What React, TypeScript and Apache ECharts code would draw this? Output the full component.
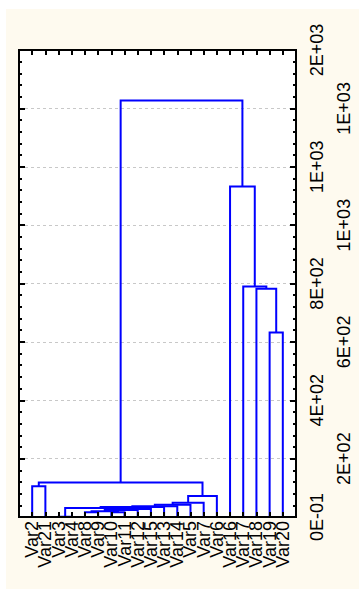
import React, { useEffect, useRef } from "react";
import * as echarts from "echarts";

// Leaves in dendrogram order (position 1..20 on the horizontal axis)
const leafNames = [
  "Var2", "Var21", "Var3", "Var4", "Var8", "Var9", "Var10", "Var11", "Var12", "Var15",
  "Var13", "Var14", "Var5", "Var7", "Var6", "Var16", "Var17", "Var18", "Var19", "Var20",
];

// Merges: ids < 20 are leaves, id 20+j is the node made by merge j
const mergeLeft = [2, 4, 6, 21, 23, 24, 20, 26, 27, 28, 29, 30, 0, 32, 18, 17, 16, 15, 33];
const mergeRight = [3, 5, 7, 22, 8, 9, 25, 10, 11, 12, 13, 14, 1, 31, 19, 34, 35, 36, 37];
const mergeHeight = [1, 16, 16, 20, 24, 27, 31, 34, 37, 42, 49, 72, 105, 118, 632, 782, 790, 1132, 1427];

// Value-axis tick labels (0 .. 1600 step 200)
const yTickLabels = ["0E-01", "2E+02", "4E+02", "6E+02", "8E+02", "1E+03", "1E+03", "1E+03", "2E+03"];

const FONT = "Liberation Sans, Arial, sans-serif";

export default function App() {
  const ref = useRef<HTMLDivElement>(null);

  useEffect(() => {
    if (!ref.current) return;
    const chart = echarts.init(ref.current, null, { renderer: "svg" });

    const nLeaf = leafNames.length;
    const xs: number[] = [];
    const hs: number[] = [];
    for (let i = 0; i < nLeaf; i++) {
      xs.push(i + 1);
      hs.push(0);
    }
    const links: any[] = [];
    for (let j = 0; j < mergeLeft.length; j++) {
      const a = mergeLeft[j];
      const b = mergeRight[j];
      const h = mergeHeight[j];
      links.push({
        coords: [
          [xs[a], hs[a]],
          [xs[a], h],
          [xs[b], h],
          [xs[b], hs[b]],
        ],
      });
      xs.push((xs[a] + xs[b]) / 2);
      hs.push(h);
    }

    const black = "#000";
    const tickStyle = { color: black, width: 2 };

    chart.setOption({
      animation: false,
      backgroundColor: "#fefaef",
      grid: {
        left: 13,
        top: 41,
        right: 63,
        bottom: 72,
        show: true,
        backgroundColor: "#ffffff",
        borderColor: black,
        borderWidth: 2,
      },
      xAxis: [
        {
          type: "value",
          min: 0,
          max: nLeaf + 1,
          interval: 1,
          position: "bottom",
          z: 3,
          axisLine: { show: true, onZero: false, lineStyle: { color: black, width: 2 } },
          axisTick: { show: true, inside: true, length: 5, lineStyle: tickStyle },
          splitLine: { show: false },
          axisLabel: {
            show: true,
            rotate: 90,
            margin: 4,
            fontSize: 18,
            fontFamily: FONT,
            color: black,
            formatter: (v: number) => leafNames[v - 1] ?? "",
          },
        },
        {
          type: "value",
          min: 0,
          max: nLeaf + 1,
          interval: 1,
          position: "top",
          axisLine: { show: true, onZero: false, lineStyle: { color: black, width: 2 } },
          axisTick: { show: true, inside: true, length: 5, lineStyle: tickStyle },
          splitLine: { show: false },
          axisLabel: { show: false },
        },
      ],
      yAxis: [
        {
          type: "value",
          min: 0,
          max: 1600,
          interval: 200,
          position: "right",
          axisLine: { show: true, onZero: false, lineStyle: { color: black, width: 2 } },
          axisTick: { show: true, inside: true, length: 6, lineStyle: tickStyle },
          minorTick: { show: true, splitNumber: 5, length: 3, lineStyle: tickStyle },
          splitLine: { show: true, lineStyle: { color: "#c8c8c8", type: [3, 3], width: 1 } },
          axisLabel: {
            show: true,
            rotate: 90,
            margin: 12,
            fontSize: 18,
            fontFamily: FONT,
            color: black,
            formatter: (v: number) => {
              const i = Math.round(v / 200);
              return i % 2 === 0 ? yTickLabels[i] ?? "" : "";
            },
          },
        },
        {
          type: "value",
          min: 0,
          max: 1600,
          interval: 200,
          position: "right",
          axisLine: { show: false },
          axisTick: { show: false },
          splitLine: { show: false },
          axisLabel: {
            show: true,
            rotate: 90,
            margin: 39,
            fontSize: 18,
            fontFamily: FONT,
            color: black,
            formatter: (v: number) => {
              const i = Math.round(v / 200);
              return i % 2 === 1 ? yTickLabels[i] ?? "" : "";
            },
          },
        },
        {
          type: "value",
          min: 0,
          max: 1600,
          interval: 200,
          position: "left",
          axisLine: { show: true, onZero: false, lineStyle: { color: black, width: 2 } },
          axisTick: { show: true, inside: true, length: 6, lineStyle: tickStyle },
          minorTick: { show: true, splitNumber: 5, length: 3, lineStyle: tickStyle },
          splitLine: { show: false },
          axisLabel: { show: false },
        },
      ],
      series: [
        {
          type: "lines",
          coordinateSystem: "cartesian2d",
          xAxisIndex: 0,
          yAxisIndex: 0,
          polyline: true,
          silent: true,
          lineStyle: { color: "#0000ff", width: 2, opacity: 1, curveness: 0 },
          data: links,
        },
      ],
    });

    return () => chart.dispose();
  }, []);

  return (
    <div style={{ position: "fixed", left: 0, top: 0, width: 359, height: 589, background: "#ffffff" }}>
      <div ref={ref} style={{ position: "absolute", left: 6, top: 9, width: 353, height: 580 }} />
    </div>
  );
}
